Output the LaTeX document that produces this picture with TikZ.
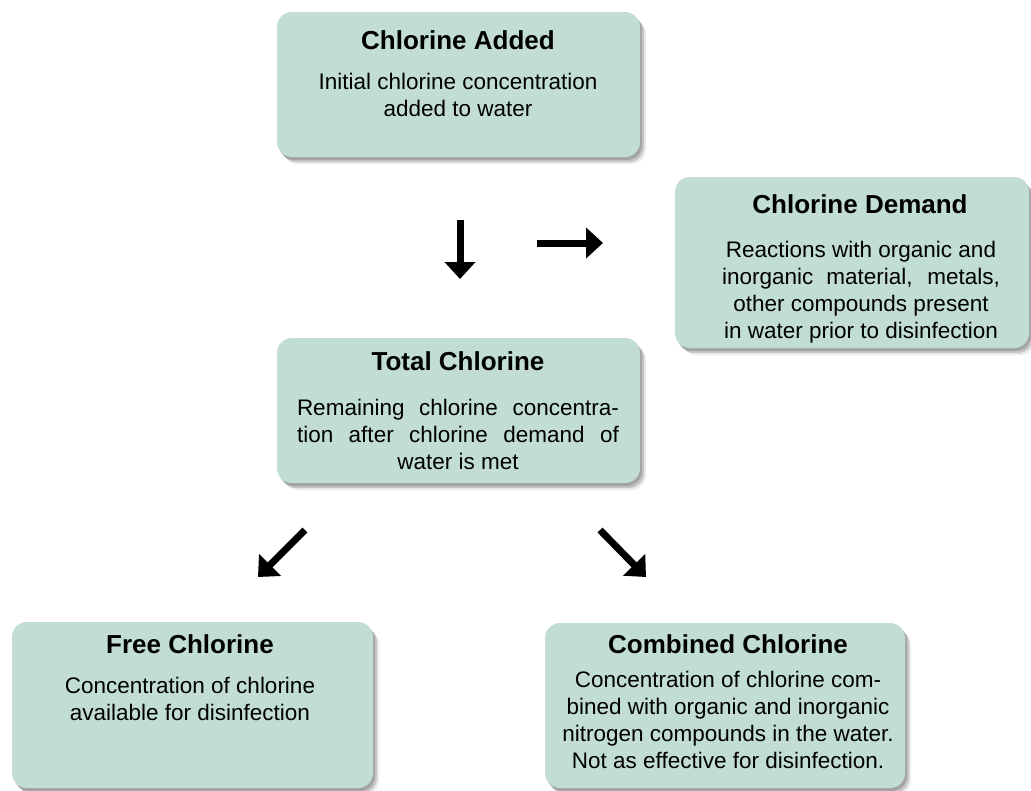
\documentclass[tikz,border=0pt]{standalone}
\usepackage{fontspec}
\setmainfont{Liberation Sans}
\usetikzlibrary{arrows.meta,shadows}

\definecolor{boxfill}{RGB}{193,221,213}
\newcommand{\headfont}{\bfseries\fontsize{26}{30}\selectfont}
\newcommand{\bodyfont}{\fontsize{22.5}{27}\selectfont}

\begin{document}
\begin{tikzpicture}[x=1pt, y=-1pt,
    stage/.style={fill=boxfill, rounded corners=15pt, inner sep=0pt,
        drop shadow={shadow xshift=6pt, shadow yshift=-7pt, fill=black!40, opacity=.2},
        drop shadow={shadow xshift=4pt, shadow yshift=-5pt, fill=black!50, opacity=.35},
        drop shadow={shadow xshift=2pt, shadow yshift=-3pt, fill=black!60, opacity=.35}},
    heading/.style={anchor=base, inner sep=0pt, font=\headfont},
    detail/.style={anchor=north, inner sep=0pt, align=center, font=\bodyfont},
    heavy/.style={line width=7pt, -{Triangle[width=30pt,length=17pt]}}]
    \useasboundingbox (0,0) rectangle (1031,790);

    % Chlorine added
    \node[stage, minimum width=363pt, minimum height=145pt] (added) at (458.5,84.5) {};
    \node[heading] (addedT) at (458,49) {Chlorine Added};
    \node[detail] (addedB) at (458,73) {Initial chlorine concentration\\added to water};

    % Chlorine demand
    \node[stage, minimum width=354pt, minimum height=171pt] (demand) at (852,262.5) {};
    \node[heading] (demandT) at (860,213) {Chlorine Demand};
    \node[detail] (demandB) at (861,241) {Reactions with organic and\\
        \makebox[278pt][s]{inorganic material, metals,}\\
        other compounds present\\in water prior to disinfection};

    % Total chlorine
    \node[stage, minimum width=363pt, minimum height=145pt] (total) at (458.5,410.5) {};
    \node[heading] (totalT) at (458,370) {Total Chlorine};
    \node[detail] (totalB) at (458,399) {\makebox[322pt][s]{Remaining chlorine concentra-}\\
        \makebox[322pt][s]{tion after chlorine demand of}\\water is met};

    % Free chlorine
    \node[stage, minimum width=361pt, minimum height=166pt] (free) at (192.5,705) {};
    \node[heading] (freeT) at (190,653) {Free Chlorine};
    \node[detail] (freeB) at (190,677) {Concentration of chlorine\\available for disinfection};

    % Combined chlorine
    \node[stage, minimum width=360pt, minimum height=165pt] (comb) at (725,705.5) {};
    \node[heading] (combT) at (728,653) {Combined Chlorine};
    \node[detail] (combB) at (728,671) {Concentration of chlorine com-\\
        bined with organic and inorganic\\nitrogen compounds in the water.\\
        Not as effective for disinfection.};

    % Arrows
    \coordinate (downA) at (460,220);
    \coordinate (downB) at (460,279);
    \coordinate (rightA) at (537,243);
    \coordinate (rightB) at (603,243);
    \coordinate (swA) at (305,530);
    \coordinate (swB) at (258,577);
    \coordinate (seA) at (600,530);
    \coordinate (seB) at (646,577);
    \draw[heavy] (downA) -- (downB);
    \draw[heavy] (rightA) -- (rightB);
    \draw[heavy] (swA) -- (swB);
    \draw[heavy] (seA) -- (seB);
\end{tikzpicture}
\end{document}
